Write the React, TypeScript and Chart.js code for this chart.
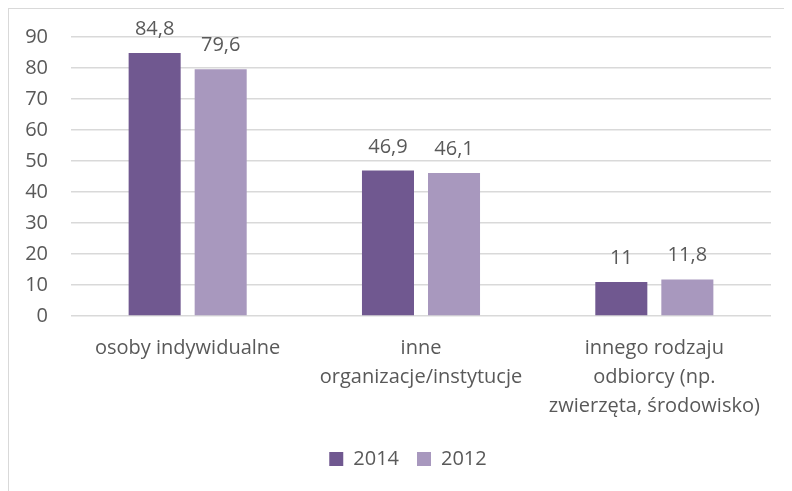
import React, { useEffect, useRef } from "react";
import { Chart, registerables } from "chart.js";

Chart.register(...registerables);

const categories: string[][] = [
  ["osoby indywidualne"],
  ["inne", "organizacje/instytucje"],
  ["innego rodzaju", "odbiorcy (np.", "zwierzęta, środowisko)"],
];
const series2014: number[] = [84.8, 46.9, 11];
const series2012: number[] = [79.6, 46.1, 11.8];
const seriesNames: string[] = ["2014", "2012"];
const yMin = 0;
const yMax = 90;
const yStep = 10;

const FONT = "'Open Sans', sans-serif";
const TEXT = "#595959";

const dataLabelPlugin = {
  id: "dataLabels",
  afterDatasetsDraw(chart: any) {
    const ctx = chart.ctx;
    ctx.save();
    ctx.font = `20px ${FONT}`;
    ctx.fillStyle = TEXT;
    ctx.textAlign = "center";
    ctx.textBaseline = "alphabetic";
    chart.data.datasets.forEach((ds: any, i: number) => {
      const meta = chart.getDatasetMeta(i);
      meta.data.forEach((bar: any, j: number) => {
        const v = ds.data[j];
        ctx.fillText(String(v).replace(".", ","), bar.x, bar.y - 18);
      });
    });
    ctx.restore();
  },
};

export default function App() {
  const ref = useRef<HTMLCanvasElement>(null);
  useEffect(() => {
    if (!ref.current) return;
    const chart = new Chart(ref.current, {
      type: "bar",
      data: {
        labels: categories,
        datasets: [
          {
            label: seriesNames[0],
            data: series2014,
            backgroundColor: "#705890",
            barPercentage: 0.788,
            categoryPercentage: 0.566,
          },
          {
            label: seriesNames[1],
            data: series2012,
            backgroundColor: "#a898be",
            barPercentage: 0.788,
            categoryPercentage: 0.566,
          },
        ],
      },
      options: {
        responsive: false,
        animation: false,
        layout: { padding: { top: 28, right: 0, bottom: 28, left: 0 } },
        plugins: {
          legend: {
            position: "bottom",
            labels: {
              boxWidth: 14,
              boxHeight: 14,
              padding: 18,
              color: TEXT,
              font: { family: FONT, size: 20 },
            },
          },
          tooltip: { enabled: false },
        },
        scales: {
          x: {
            grid: { display: false },
            border: { display: false },
            ticks: {
              color: TEXT,
              font: { family: FONT, size: 20, lineHeight: 1.45 },
              padding: 10,
              maxRotation: 0,
              autoSkip: false,
            },
            afterFit: (s: any) => {
              s.height = 115;
              s.paddingLeft = 0;
              s.paddingRight = 36;
            },
          },
          y: {
            min: yMin,
            max: yMax,
            border: { display: false },
            grid: { color: "#d9d9d9", lineWidth: 1.5, drawTicks: false },
            ticks: {
              stepSize: yStep,
              color: TEXT,
              font: { family: FONT, size: 20 },
              padding: 23,
            },
            afterFit: (s: any) => {
              s.width = 62;
              s.paddingTop = 12;
              s.paddingBottom = 12;
            },
          },
        },
      },
      plugins: [dataLabelPlugin],
    });
    return () => chart.destroy();
  }, []);
  return (
    <div
      style={{
        width: 800,
        height: 500,
        boxSizing: "border-box",
        border: "1px solid #d9d9d9",
        background: "#fff",
      }}
    >
      <canvas ref={ref} width={798} height={498} style={{ display: "block" }} />
    </div>
  );
}
